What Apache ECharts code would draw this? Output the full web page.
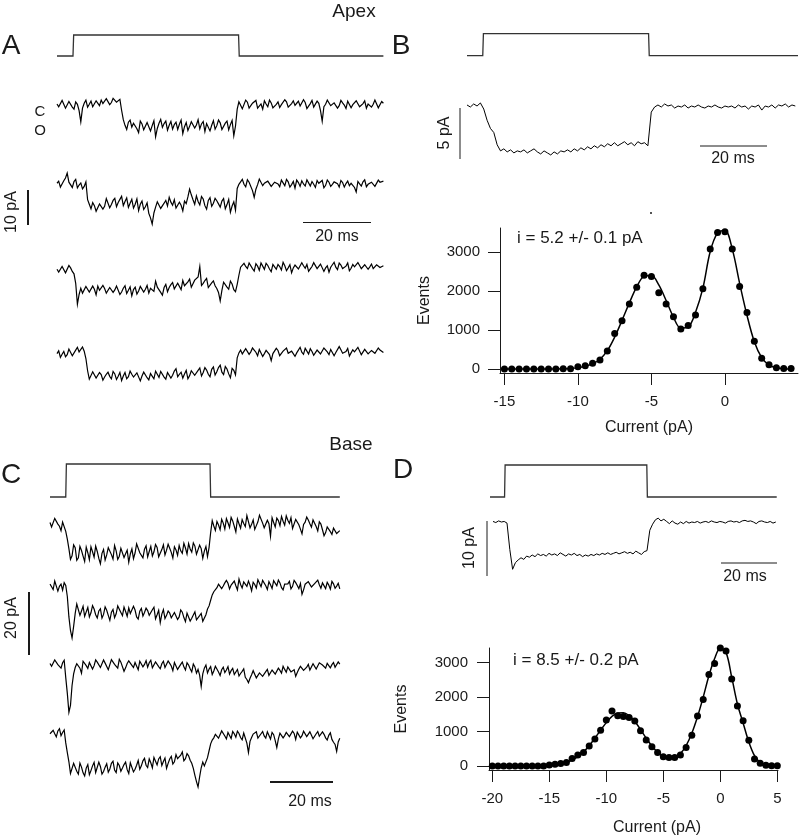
<!DOCTYPE html>
<html><head><meta charset="utf-8">
<script src="https://cdn.jsdelivr.net/npm/echarts@6/dist/echarts.min.js"></script>
<style>html,body{margin:0;padding:0;background:#fff}#c{width:800px;height:840px}</style>
</head><body><div id="c"></div>
<script>
// ---------- DATA ----------
// Stimulus steps (ms) and levels
const stimLevels = [0, 0, 1, 1, 0, 0];
const stimATimes = [0, 4.7, 4.9, 53.4, 53.6, 96];
const stimBTimes = [0, 4.7, 4.9, 54.2, 54.4, 98.8];
const stimCTimes = [0, 5.0, 5.2, 50.8, 51.0, 92];
const stimDTimes = [-1, 4.2, 4.4, 55.0, 55.2, 101.4];

// Apex single-channel traces (pA): samples at whole ms, and at the half ms between them
const traceA1 = [0.3,-0.8,0.9,-0.4,0.6,-1.2,0.2,-4.8,0.5,-0.6,1.1,-0.3,0.8,1.4,0.2,1.6,0.7,2.4,0.9,-1.5,-5.8,-4.9,-6.3,-5.1,-7.9,-5.4,-6.6,-4.8,-5.9,-9.1,-5.2,-6.4,-4.6,-5.8,-6.9,-4.9,-5.5,-8.2,-5.0,-6.1,-4.4,-5.7,-6.8,-4.7,-5.3,-7.4,-4.5,-5.9,-5.1,-6.5,-4.6,-5.6,-8.8,-1.2,0.4,-0.7,0.8,-0.2,1.0,-0.9,0.3,1.2,-0.5,0.6,-1.3,0.9,0.1,1.5,-0.6,0.4,-0.1,1.1,-0.8,0.7,-0.3,1.3,-0.4,0.5,-4.6,0.2,0.9,-0.7,1.0,-0.2,0.6,-1.0,0.8,0.1,1.2,-0.5,0.4,-0.9,0.7,0.2,1.0,-0.3,0.5];
const traceA1Half = [-0.5,1.3,-0.9,1.0,-0.6,0.9,-1.6,-0.9,1.4,0.2,-0.5,1.2,-0.2,0.4,1.8,0.1,1.9,0.8,1.6,-4.2,-7.0,-4.3,-5.2,-6.8,-4.6,-7.1,-5.0,-7.4,-4.5,-6.7,-4.1,-5.3,-7.2,-4.7,-5.6,-7.0,-4.3,-6.2,-7.3,-4.8,-6.6,-4.2,-5.4,-7.6,-4.9,-5.8,-6.9,-4.3,-7.0,-5.2,-7.1,-4.4,-6.0,0.9,-1.1,1.4,-0.9,0.5,1.3,-0.6,-1.2,0.3,1.4,-0.8,0.2,-0.7,0.6,0.9,-1.1,1.2,0.5,-0.3,1.5,-1.0,0.4,-0.6,1.1,-1.6,-0.5,1.4,-0.2,0.6,-0.9,1.3,0.0,1.1,-0.8,-0.4,0.9,-0.7,1.2,0.3,-0.6,1.4,-0.8,1.0];
const traceA2 = [0.5,-0.6,1.2,3.4,0.3,1.0,-0.8,0.6,-0.4,-4.2,-6.8,-5.9,-7.2,-4.9,-6.1,-4.3,-5.6,-3.8,-5.0,-3.2,-4.7,-6.4,-4.1,-5.5,-7.3,-4.6,-6.2,-8.1,-11.2,-6.3,-5.1,-7.0,-4.4,-3.5,-5.8,-6.6,-4.9,-7.4,-5.3,-1.2,-4.2,-3.1,-5.7,-4.0,-6.9,-3.6,-5.2,-4.5,-6.3,-3.9,-5.6,-7.8,-4.8,-1.0,0.9,0.2,1.5,0.4,-3.5,0.1,1.3,0.5,1.1,-0.4,0.8,0.3,1.4,-0.2,0.9,0.1,-0.9,0.7,1.2,-0.3,0.6,1.0,-0.7,0.5,1.3,-0.1,0.8,0.2,1.1,-0.6,0.7,0.4,-0.2,1.0,-2.0,0.3,0.9,-0.5,0.6,1.2,0.1,0.8,1.1];
const traceA2Half = [1.1,-0.9,2.0,0.8,-0.7,1.6,0.0,-1.1,0.9,-5.5,-5.0,-7.5,-5.4,-6.9,-3.9,-6.5,-4.4,-6.2,-4.1,-5.9,-3.7,-5.2,-6.6,-4.0,-5.5,-7.0,-5.1,-9.4,-8.0,-4.8,-6.7,-5.2,-6.0,-4.9,-4.2,-7.1,-5.8,-4.6,-3.4,-2.8,-5.5,-4.7,-3.3,-5.9,-4.4,-6.1,-3.8,-5.4,-4.6,-6.8,-4.1,-6.0,-7.2,0.2,1.6,-0.5,0.8,-1.6,-1.2,1.7,-0.2,0.4,1.5,0.1,1.2,-0.5,0.6,1.6,-0.6,1.0,1.4,-0.4,0.3,1.5,-0.3,0.2,1.3,0.6,-0.8,1.4,-0.4,0.9,0.4,1.3,-0.6,1.1,0.5,-0.7,1.0,-0.3,1.5,0.2,0.8,-0.4,1.4,0.3];
const traceA3 = [0.2,-0.9,0.8,-0.3,0.6,-1.1,-9.8,-5.2,-6.4,-5.0,-6.8,-5.5,-4.6,-6.1,-5.3,-6.9,-4.8,-5.7,-5.1,-6.3,-4.5,-5.8,-7.4,-4.9,-6.0,-4.2,-5.5,-6.6,-4.7,-3.2,-5.4,-7.2,-4.1,-5.0,-3.6,-5.9,-4.3,-3.0,-4.8,-2.6,-4.4,-3.3,1.0,-3.8,-2.4,-4.6,-3.1,-5.3,-8.8,-3.5,-4.9,-3.2,-5.6,-4.1,0.8,1.9,0.4,1.5,-0.3,1.1,2.0,0.2,1.3,-0.5,0.9,1.6,0.0,1.2,0.6,-0.8,1.4,0.3,2.1,0.5,-0.4,1.0,1.7,0.1,1.3,0.6,-0.6,1.5,0.8,2.0,0.4,1.1,-0.2,1.6,0.7,1.3,0.0,1.8,0.9,0.4,1.5,0.7,1.2];
const traceA3Half = [-0.6,1.0,-0.8,1.3,-0.4,-3.8,-7.0,-6.6,-4.7,-6.3,-4.6,-7.1,-5.8,-4.4,-6.6,-5.0,-6.4,-4.6,-7.0,-5.2,-6.7,-4.8,-5.6,-6.9,-4.7,-6.3,-4.4,-5.2,-6.1,-4.9,-6.4,-5.0,-6.2,-4.2,-5.4,-3.8,-5.6,-4.5,-3.4,-4.9,-2.9,-2.0,-4.4,-3.0,-5.0,-3.7,-4.5,-6.4,-5.8,-3.9,-5.5,-4.0,-6.2,-1.5,0.5,1.0,2.0,0.4,1.8,-0.1,1.1,1.9,0.3,1.6,0.2,1.0,2.2,-0.2,1.5,0.6,1.9,-0.1,1.2,1.6,0.3,2.1,0.4,1.7,-0.4,1.2,0.8,2.2,0.1,1.4,0.6,2.0,0.5,0.9,2.1,0.4,1.5,0.2,1.7,0.8,2.0,0.5];
const traceA4 = [0.4,-0.7,1.0,0.1,1.5,0.3,2.2,0.6,1.1,-4.5,-6.4,-5.2,-7.0,-5.6,-6.3,-4.9,-6.8,-5.4,-6.1,-7.3,-5.0,-6.2,-5.5,-6.7,-4.8,-6.0,-5.3,-7.1,-5.7,-4.6,-6.4,-5.1,-6.9,-4.7,-5.8,-3.9,-5.5,-6.6,-4.4,-5.9,-4.2,-6.1,-3.7,-5.0,-4.3,-6.2,-3.4,-4.8,-2.9,-5.6,-4.0,-6.5,-4.4,-0.8,1.4,0.6,2.1,0.9,1.5,-0.2,1.2,0.4,1.8,-1.6,0.7,1.3,0.2,1.6,0.5,1.1,-0.4,1.4,0.8,1.9,0.3,1.0,-0.5,1.2,0.6,1.7,0.1,1.3,0.7,2.4,0.5,1.0,-0.3,1.5,0.8,1.9,0.4,1.2,0.6,1.7,0.9,1.4,0.7];
const traceA4Half = [1.2,0.2,-0.5,1.7,-0.2,1.4,0.9,2.3,-1.0,-6.9,-4.8,-6.6,-5.0,-7.2,-5.5,-6.1,-4.7,-7.0,-5.0,-6.0,-6.8,-4.6,-6.3,-5.1,-7.4,-4.9,-6.5,-5.3,-6.8,-5.5,-4.7,-6.3,-5.0,-6.6,-4.6,-6.2,-4.9,-5.4,-6.8,-4.5,-5.8,-4.4,-6.0,-3.6,-5.5,-4.1,-5.7,-3.6,-4.9,-3.3,-5.4,-3.8,-5.7,0.6,0.3,1.8,0.2,2.0,0.8,1.6,-0.4,1.3,0.1,0.4,1.9,-0.2,1.1,2.0,0.0,1.5,0.6,2.2,0.2,1.1,1.8,-0.1,1.4,0.3,2.0,0.9,1.6,-0.2,1.2,1.5,0.2,1.9,0.6,0.9,2.2,0.1,1.6,0.3,1.3,0.5,2.0,1.1];
// Apex ensemble average (pA, 1 ms)
const traceB = [0.1,-0.1,0.2,0.0,0.3,-0.3,-1.4,-2.2,-2.6,-3.8,-4.4,-4.2,-4.5,-4.3,-4.6,-4.4,-4.5,-4.3,-4.6,-4.4,-4.2,-4.5,-4.7,-4.4,-4.6,-4.8,-4.5,-4.7,-4.4,-4.5,-4.3,-4.5,-4.2,-4.4,-4.1,-4.3,-4.0,-4.2,-3.9,-4.1,-3.8,-4.0,-3.7,-3.9,-3.6,-3.9,-3.7,-3.5,-3.8,-3.6,-3.9,-3.5,-3.7,-3.6,-3.9,-0.6,-0.1,0.1,-0.1,0.2,0.0,0.1,-0.2,0.0,-0.1,0.1,-0.2,0.0,-0.1,0.1,-0.1,-0.2,0.0,-0.1,0.1,-0.1,-0.2,0.0,-0.1,0.0,-0.2,0.1,-0.1,0.0,-0.3,0.0,-0.1,0.1,-0.4,0.0,-0.1,0.1,-0.2,0.1,0.0,0.2,-0.1,0.1,0.0];
// Base single-channel traces (pA): whole ms and half ms samples
const traceC1 = [0.8,-1.2,1.5,-0.4,0.9,-2.0,-7.5,-9.8,-7.2,-10.4,-8.1,-11.6,-8.8,-6.9,-10.2,-8.4,-12.3,-7.8,-9.5,-6.6,-10.8,-8.2,-9.9,-7.0,-9.1,-11.8,-7.6,-8.9,-6.4,-9.3,-7.7,-10.1,-6.8,-8.5,-7.1,-9.6,-6.3,-8.0,-7.4,-10.5,-7.9,-6.5,-9.0,-7.3,-5.9,-8.6,-6.7,-9.4,-7.5,-8.3,-10.0,-2.4,-0.3,1.1,-1.5,0.6,2.0,-0.8,1.3,-2.2,0.4,1.7,-0.5,2.4,0.2,-1.4,1.0,2.6,-0.9,1.5,-3.6,0.8,2.2,-0.2,1.2,2.9,0.5,-1.1,1.8,0.1,-2.8,0.9,1.6,-0.7,1.1,-1.9,0.3,-3.4,-0.6,-2.1,-1.0,-2.7,-1.8];
const traceC1Half = [-0.6,2.1,0.3,-1.8,1.2,-4.5,-10.9,-6.3,-11.2,-6.8,-9.9,-7.0,-11.0,-8.5,-6.7,-10.6,-9.0,-11.1,-7.2,-9.4,-6.5,-10.9,-7.4,-10.3,-8.0,-9.2,-10.7,-6.0,-8.8,-10.4,-6.6,-8.4,-9.8,-6.2,-10.1,-7.8,-9.5,-6.1,-8.7,-6.9,-9.6,-8.2,-5.8,-9.2,-7.6,-5.7,-9.3,-6.4,-10.6,-6.8,-7.1,1.4,-1.7,0.0,1.8,-1.3,0.7,2.4,-0.4,1.9,-1.0,0.5,3.0,-0.9,1.6,-0.2,3.1,0.6,-1.2,0.4,2.3,-0.6,1.4,2.7,0.0,1.5,2.3,-0.5,2.4,-1.3,0.2,2.5,0.4,1.6,-0.5,1.0,-1.5,-2.4,-0.8,-3.0,-0.6,-2.5];
const traceC2 = [0.9,-0.8,1.6,0.2,-1.0,0.5,-9.5,-16.2,-8.4,-5.8,-7.6,-9.3,-6.5,-8.2,-7.0,-9.8,-6.9,-8.7,-7.4,-10.6,-7.1,-8.5,-6.2,-9.1,-7.8,-6.6,-8.9,-7.3,-10.2,-6.8,-8.1,-7.5,-9.6,-6.4,-8.8,-11.3,-7.2,-9.0,-8.3,-10.4,-7.7,-9.5,-8.0,-11.0,-8.6,-9.9,-7.9,-10.7,-8.4,-11.4,-7.0,-4.2,-1.5,-0.2,1.4,0.3,2.1,-0.6,1.2,0.4,2.5,-0.3,1.0,1.9,-1.2,0.8,2.3,0.1,1.5,-0.8,0.7,2.0,0.4,1.3,-0.9,0.6,1.8,0.2,1.4,-0.5,-2.3,0.9,1.7,0.0,1.1,2.2,-0.4,0.8,1.5,-0.7,1.0,0.3,-0.6];
const traceC2Half = [0.1,1.9,-1.3,0.9,1.4,-3.0,-13.8,-12.5,-5.4,-9.0,-6.1,-7.9,-9.5,-5.9,-8.8,-7.6,-9.9,-6.3,-9.0,-8.0,-9.7,-6.0,-8.1,-6.4,-9.3,-8.4,-6.1,-9.5,-7.7,-9.2,-6.7,-9.0,-7.2,-10.1,-7.4,-8.6,-10.0,-7.6,-9.8,-8.1,-10.3,-7.3,-9.7,-8.3,-10.8,-8.9,-10.4,-9.1,-10.9,-8.8,-6.0,-2.5,-1.1,0.9,-0.5,1.3,1.2,0.6,1.9,-0.9,0.8,1.6,0.2,0.6,1.5,-0.3,1.2,2.1,0.4,1.7,-0.5,1.4,2.2,-0.2,0.9,1.0,-0.6,2.1,0.5,1.1,-0.9,0.4,2.0,-0.1,1.7,0.7,1.3,-0.5,0.6,1.8,-0.4,1.2];
const traceC3 = [0.5,-0.9,1.2,-0.3,0.7,-4.0,-15.0,-6.5,-0.8,1.0,-2.6,0.6,-1.1,1.4,-0.2,0.9,-0.8,1.6,0.1,-1.3,1.1,-0.4,1.8,0.3,-0.9,1.3,-0.1,0.8,-1.5,1.0,0.2,-0.7,1.5,-0.3,0.6,-1.2,1.2,-0.2,0.5,-1.8,0.4,-0.9,0.9,-1.6,0.0,-2.2,-0.6,-1.4,-6.8,-1.0,-2.5,-0.5,-1.9,-0.8,-3.3,-0.7,-1.6,-2.9,-1.1,-2.4,-3.5,-2.0,-3.9,-5.6,-3.1,-2.2,-3.8,-1.9,-3.0,-1.4,-2.8,-1.2,-3.4,-1.7,-0.4,-2.3,-1.0,-2.7,-3.6,-1.3,-0.6,-2.0,0.2,-1.1,0.6,-0.8,1.3,-0.4,0.5,-0.9,0.8,-0.2,0.3];
const traceC3Half = [-0.4,1.6,0.1,-1.0,1.5,-9.0,-12.8,-2.8,0.4,-1.0,1.2,-0.2,0.8,-1.3,1.6,0.3,-0.3,0.6,-1.5,1.7,0.2,-1.0,0.9,-2.0,0.5,1.8,-0.8,0.2,1.2,-0.6,1.4,0.7,-0.9,1.0,-0.5,0.4,-0.8,1.3,-0.3,0.8,-1.4,0.2,-0.6,0.7,-1.2,0.3,-2.6,-3.2,-2.8,0.0,-1.3,-3.0,-0.4,-2.2,-1.5,-2.4,-0.5,-1.8,-3.0,-1.4,-2.7,-1.2,-4.6,-4.2,-1.8,-4.1,-2.5,-3.6,-2.1,-3.3,-1.6,-2.9,-1.0,-2.6,-1.4,-0.6,-2.2,-1.5,-2.4,-0.4,-1.7,-0.7,-1.6,0.4,-1.3,0.7,0.0,-1.0,1.1,0.1,-0.7,1.0];
const traceC4 = [0.4,1.5,-0.6,2.0,0.8,-2.5,-8.5,-11.8,-9.6,-12.4,-10.2,-13.0,-9.4,-11.3,-8.7,-12.1,-10.0,-11.6,-9.1,-10.8,-8.3,-11.9,-9.7,-10.5,-8.6,-12.2,-9.3,-10.9,-8.1,-9.8,-7.4,-10.3,-8.8,-7.1,-9.5,-6.9,-8.4,-10.6,-7.6,-9.2,-6.2,-8.0,-5.4,-7.5,-6.6,-9.0,-12.8,-16.5,-10.4,-9.8,-7.2,-2.8,-0.9,0.6,-0.4,0.9,-1.2,0.3,1.1,-0.7,0.5,-1.5,0.2,-5.6,-0.8,0.7,-1.0,0.4,-0.3,1.0,-1.3,0.1,-4.0,0.6,-0.9,0.8,-0.5,1.2,-1.4,0.3,-0.2,0.9,-1.1,0.5,-0.6,1.1,-0.8,0.2,-1.6,0.7,-2.3,-5.2,-1.0];
const traceC4Half = [0.9,0.4,1.3,-0.2,1.6,-5.6,-12.2,-9.0,-11.5,-8.9,-12.0,-10.5,-12.6,-9.8,-11.9,-8.6,-12.4,-10.2,-11.8,-9.0,-11.1,-8.9,-11.5,-9.4,-11.0,-8.8,-11.7,-9.6,-10.9,-8.2,-9.6,-7.6,-10.4,-8.3,-7.6,-9.7,-7.3,-9.0,-6.8,-8.5,-7.5,-6.4,-8.2,-5.9,-8.0,-10.6,-14.8,-13.3,-8.6,-10.1,-5.0,-1.6,0.2,-1.0,1.3,-0.3,0.8,-1.1,0.4,1.2,-0.8,0.6,-2.6,-2.0,0.3,1.0,-0.6,1.1,-1.0,0.5,0.8,-1.8,-1.2,1.0,-0.2,1.3,-1.0,0.5,0.9,-0.9,1.2,-0.5,1.0,-1.2,0.4,-0.4,1.0,-0.9,-0.1,-1.4,-3.0,-2.2];
// Base ensemble average (pA, 1 ms)
const traceD = [0.1,-0.1,0.2,0.0,0.1,-0.2,-5.0,-8.6,-7.4,-6.9,-6.5,-6.8,-6.2,-6.4,-6.0,-6.3,-5.8,-6.1,-5.9,-6.2,-5.7,-6.0,-5.8,-6.1,-5.6,-5.9,-6.2,-5.8,-6.0,-5.7,-6.1,-5.9,-6.3,-6.0,-6.2,-5.9,-6.1,-5.8,-6.0,-5.7,-5.9,-5.6,-5.9,-5.7,-5.5,-5.8,-5.6,-5.4,-5.7,-5.5,-5.8,-5.3,-5.6,-5.9,-5.4,-5.2,-1.5,-0.4,0.4,0.7,0.2,0.5,0.1,-0.3,0.2,-0.2,-0.4,0.0,-0.3,0.1,-0.2,0.0,-0.1,0.1,-0.2,0.0,0.1,-0.1,0.2,0.0,-0.1,0.1,0.0,-0.2,0.1,0.2,0.0,0.1,-0.1,0.2,0.3,0.1,0.2,0.0,-0.3,0.1,0.2,0.0,-0.1,0.1,-0.2,0.0];

// Amplitude histograms (bins every 0.5 pA)
const histBStart = -15;
const histBCounts = [0,0,0,0,0,0,0,0,5,8,60,85,145,230,460,910,1240,1670,2100,2410,2375,1960,1670,1345,1030,1120,1390,2060,3085,3510,3530,3085,2120,1450,710,275,110,35,15,10];
const histBFit = [0,0,0,0,0,0,0,2,6,15,35,70,130,250,470,820,1250,1700,2110,2380,2400,2160,1760,1330,1050,1080,1460,2080,3020,3500,3560,3080,2200,1380,700,290,100,30,8,2];
const histDStart = -20;
const histDCounts = [0,0,0,0,0,0,0,0,0,0,30,50,75,105,220,320,390,580,785,1035,1335,1600,1460,1440,1410,1305,1025,755,560,390,270,250,250,320,540,890,1450,1935,2660,2980,3425,3340,2525,1740,1315,745,205,80,25,8,5];
const histDFit = [0,0,0,0,0,0,0,0,3,8,18,35,60,100,170,270,410,590,810,1040,1260,1440,1540,1545,1460,1290,1060,810,580,400,280,230,250,360,590,950,1430,2000,2620,3120,3420,3300,2580,1800,1250,700,300,100,30,8,2];
const histBTicks = [-15, -10, -5, 0];
const histDTicks = [-20, -15, -10, -5, 0, 5];
const eventTicks = [0, 1000, 2000, 3000];

// ---------- BUILD ----------
const FONT = 'Liberation Sans, Arial, Helvetica, sans-serif';
const INK = '#1a1a1a';
const grids = [], xAxes = [], yAxes = [], series = [];
function addGrid(left, top, width, height, xmin, xmax, ymin, ymax) {
  const i = grids.length;
  grids.push({left, top, width, height, containLabel: false, outerBoundsMode: 'none'});
  xAxes.push({type: 'value', gridIndex: i, min: xmin, max: xmax, show: false});
  yAxes.push({type: 'value', gridIndex: i, min: ymin, max: ymax, show: false});
  return i;
}
function addLine(gi, data, color, width) {
  series.push({type: 'line', xAxisIndex: gi, yAxisIndex: gi, data, symbol: 'none',
    clip: false, silent: true, animation: false,
    lineStyle: {color, width, join: 'miter'}});
}
function sampled(vals, dt) { return vals.map((v, i) => [i * dt, v]); }
function interleaved(whole, half) {
  const out = [];
  whole.forEach((v, i) => { out.push([i, v]); if (i < half.length) out.push([i + 0.5, half[i]]); });
  return out;
}
function stim(times) { return times.map((t, i) => [t, stimLevels[i]]); }
function vBar(x, yTop, pxLen, value, w) {
  const g = addGrid(x - 1, yTop, 2, pxLen, -1, 1, 0, value);
  addLine(g, [[0, 0], [0, value]], INK, w);
}
function hBar(x, y, pxLen, value, w) {
  const g = addGrid(x, y - 1, pxLen, 2, 0, value, -1, 1);
  addLine(g, [[0, 0], [value, 0]], INK, w);
}

// Panel A
const pxMsA = 3.4, pxPaA = 3.5;
let g = addGrid(57, 35, 96 * pxMsA, 21, 0, 96, 0, 1);
addLine(g, stim(stimATimes), '#333', 1.3);
[[traceA1, traceA1Half, 105], [traceA2, traceA2Half, 185], [traceA3, traceA3Half, 270], [traceA4, traceA4Half, 355]].forEach(([tr, hf, base]) => {
  const gi = addGrid(57, base - 6 * pxPaA, 96 * pxMsA, 20 * pxPaA, 0, 96, -14, 6);
  addLine(gi, interleaved(tr, hf), '#000', 1.2);
});
vBar(28, 190, 10 * pxPaA, 10, 2);
hBar(303, 222.5, 20 * pxMsA, 20, 1.2);

// Panel B
const pxMsB = 3.35, pxPaB = 10.2;
g = addGrid(467, 33.7, 98.8 * pxMsB, 22, 0, 98.8, 0, 1);
addLine(g, stim(stimBTimes), '#333', 1.3);
g = addGrid(467, 106 - 1 * pxPaB, 98.8 * pxMsB, 7 * pxPaB, 0, 98.8, -6, 1);
addLine(g, sampled(traceB, 1), '#000', 1);
vBar(460, 108, 5 * pxPaB, 5, 1);
hBar(700, 146, 20 * pxMsB, 20, 1);

// Panel C
const pxMsC = 3.15, pxPaC = 3.15;
g = addGrid(50, 464, 92 * pxMsC, 33, 0, 92, 0, 1);
addLine(g, stim(stimCTimes), '#333', 1.3);
[[traceC1, traceC1Half, 525], [traceC2, traceC2Half, 587], [traceC3, traceC3Half, 665], [traceC4, traceC4Half, 735]].forEach(([tr, hf, base]) => {
  const gi = addGrid(50, base - 5 * pxPaC, 92 * pxMsC, 25 * pxPaC, 0, 92, -20, 5);
  addLine(gi, interleaved(tr, hf), '#000', 1.2);
});
vBar(29, 592, 20 * pxPaC, 20, 2);
hBar(270, 782, 20 * pxMsC, 20, 2);

// Panel D
const pxMsD = 2.8, pxPaD = 5.5;
g = addGrid(490, 465, 102.4 * pxMsD, 32, -1, 101.4, 0, 1);
addLine(g, stim(stimDTimes), '#333', 1.3);
g = addGrid(493, 522 - 2 * pxPaD, 102 * pxMsD, 12 * pxPaD, 0, 102, -10, 2);
addLine(g, sampled(traceD, 1), '#000', 1);
vBar(487, 521, 10 * pxPaD, 10, 1);
hBar(721, 563, 20 * pxMsD, 20, 1);

// Histograms
function addHist(rect, xr, yr, ticks, counts, fit, start, nameGapY, nameGapX, labelMarginY, namePadX) {
  const i = grids.length;
  grids.push({left: rect[0], top: rect[1], width: rect[2], height: rect[3], containLabel: false, outerBoundsMode: 'none'});
  const axisCommon = {
    axisLine: {show: true, onZero: false, lineStyle: {color: INK, width: 1}},
    axisTick: {show: true, length: 12, lineStyle: {color: INK, width: 1}},
    splitLine: {show: false},
    nameTextStyle: {fontFamily: FONT, fontSize: 16, color: INK},
  };
  xAxes.push(Object.assign({}, axisCommon, {type: 'value', gridIndex: i, min: xr[0], max: xr[1],
    axisTick: Object.assign({}, axisCommon.axisTick, {customValues: ticks}),
    axisLabel: {customValues: ticks, margin: 21, fontFamily: FONT, fontSize: 15, color: INK, formatter: v => String(v)},
    name: 'Current (pA)', nameLocation: 'middle', nameGap: nameGapX,
    nameTextStyle: {fontFamily: FONT, fontSize: 16, color: INK, padding: [0, 0, 0, namePadX]}}));
  yAxes.push(Object.assign({}, axisCommon, {type: 'value', gridIndex: i, min: yr[0], max: yr[1],
    axisTick: Object.assign({}, axisCommon.axisTick, {customValues: eventTicks}),
    axisLabel: {customValues: eventTicks, margin: labelMarginY, fontFamily: FONT, fontSize: 15, color: INK, formatter: v => String(v)},
    name: 'Events', nameLocation: 'middle', nameGap: nameGapY}));
  series.push({type: 'line', xAxisIndex: i, yAxisIndex: i, symbol: 'none', smooth: 0.35, clip: false,
    animation: false, silent: true, lineStyle: {color: '#000', width: 1.5},
    data: fit.map((v, k) => [start + k * 0.5, v])});
  series.push({type: 'scatter', xAxisIndex: i, yAxisIndex: i, symbol: 'circle', symbolSize: 7,
    clip: false, animation: false, silent: true, itemStyle: {color: '#000', opacity: 1},
    data: counts.map((v, k) => [start + k * 0.5, v])});
}
addHist([500, 228, 298, 145], [-15.3, 4.97], [-103, 3624], histBTicks, histBCounts, histBFit, histBStart, 67, 47, 20, 0);
addHist([489, 648, 289, 122], [-20.29, 5.06], [-116, 3427], histDTicks, histDCounts, histDFit, histDStart, 79, 50, 21, 47);

// Text
function txt(text, x, y, size, opts) {
  return Object.assign({type: 'text', x, y, silent: true,
    style: {text, fontFamily: FONT, fontSize: size, fill: INK, align: 'center', verticalAlign: 'middle'}}, opts || {});
}
const rot = Math.PI / 2;
const graphics = [
  txt('A', 11, 46, 28), txt('B', 401, 46, 28), txt('C', 11, 475, 28), txt('D', 403, 470, 28),
  txt('Apex', 354, 12, 19), txt('Base', 351, 445, 19),
  txt('C', 40, 112, 15), txt('O', 40, 131, 15),
  txt('10 pA', 12, 212, 16, {rotation: rot}),
  txt('20 ms', 337, 237, 16),
  txt('5 pA', 445, 133, 16, {rotation: rot}),
  txt('20 ms', 733, 159, 16),
  txt('20 pA', 12, 618, 16, {rotation: rot}),
  txt('20 ms', 310, 802, 16),
  txt('10 pA', 470, 548, 16, {rotation: rot}),
  txt('20 ms', 745, 577, 16),
  {type: 'text', x: 517, y: 238, silent: true, style: {text: 'i = 5.2 +/- 0.1 pA', fontFamily: FONT, fontSize: 17, fill: INK, align: 'left', verticalAlign: 'middle'}},
  {type: 'text', x: 513, y: 660, silent: true, style: {text: 'i = 8.5 +/- 0.2 pA', fontFamily: FONT, fontSize: 17, fill: INK, align: 'left', verticalAlign: 'middle'}},
  {type: 'circle', shape: {cx: 651, cy: 213, r: 1}, silent: true, style: {fill: INK}}
];

const chart = echarts.init(document.getElementById('c'), null, {renderer: 'canvas'});
chart.setOption({
  animation: false,
  backgroundColor: '#fff',
  grid: grids, xAxis: xAxes, yAxis: yAxes, series,
  graphic: graphics
});
</script></body></html>
